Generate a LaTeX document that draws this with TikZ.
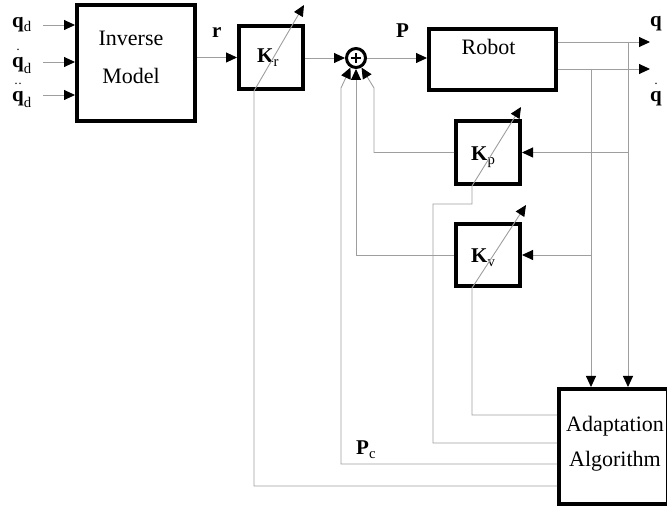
\documentclass[tikz,border=0pt]{standalone}
\usepackage{amsmath}
\usepackage{fontspec}
\setmainfont{Liberation Serif}
\usetikzlibrary{arrows.meta,positioning,calc}

\tikzset{
  blk/.style={draw,line width=4pt,inner sep=0pt},
  sig/.style={draw=black!38,line width=0.9pt},
  tip/.style={-{Triangle[length=11pt,width=10pt,color=black]}},
  txt/.style={font=\fontsize{22}{38}\selectfont,align=center,inner sep=0pt},
  lbl/.style={font=\fontsize{21}{23}\selectfont,inner sep=0pt,anchor=base west},
}

\begin{document}
\begin{tikzpicture}[x=1pt,y=-1pt]
\useasboundingbox (0,0) rectangle (667,510);

% blocks
\node[blk,minimum width=118pt,minimum height=116pt] (inv) at (136,63) {};
\node[blk,minimum width=64pt,minimum height=63pt] (kr) at (271,57.5) {};
\node[draw,circle,line width=3pt,minimum size=19pt,inner sep=0pt] (sum) at (356,58) {};
\node[blk,minimum width=127pt,minimum height=61pt] (robot) at (492.5,59.5) {};
\node[blk,minimum width=64pt,minimum height=63pt] (kp) at (488,152.5) {};
\node[blk,minimum width=64pt,minimum height=62pt] (kv) at (488,255) {};
\node[blk,minimum width=109pt,minimum height=115pt] (adapt) at (613.5,446.5) {};
\draw[line width=2pt] ([xshift=-5pt]sum.center) -- ([xshift=5pt]sum.center);
\draw[line width=2pt] ([yshift=-5pt]sum.center) -- ([yshift=5pt]sum.center);

% block texts
\node[txt] (invtxt) at (131,57) {Inverse\\Model};
\node[txt,anchor=base] (robtxt) at (488.5,55) {Robot};
\node[txt,font=\fontsize{22}{35}\selectfont] (adtxt) at (615,444) {Adaptation\\Algorithm};

% labels
\node[lbl] (qd1) at (12,28) {$\mathbf{q}_{\mathrm{d}}$};
\node[lbl] (qd2) at (12,68) {$\overset{\cdot}{\mathbf{q}}_{\mathrm{d}}$};
\node[lbl] (qd3) at (12,102) {$\overset{\cdot\cdot}{\mathbf{q}}_{\mathrm{d}}$};
\node[lbl] (rl) at (212,38) {$\mathbf{r}$};
\node[lbl] (pl) at (396,38) {$\mathbf{P}$};
\node[lbl] (pcl) at (356,455) {$\mathbf{P}_{\mathrm{c}}$};
\node[lbl] (ql) at (650,27) {$\mathbf{q}$};
\node[lbl] (qdl) at (650,102) {$\overset{\cdot}{\mathbf{q}}$};
\node[lbl] (krl) at (257,63) {$\mathbf{K}_{\mathrm{r}}$};
\node[lbl] (kpl) at (471,161) {$\mathbf{K}_{\mathrm{p}}$};
\node[lbl] (kvl) at (471,263) {$\mathbf{K}_{\mathrm{v}}$};

% free ends and branch points
\coordinate (in1) at (43,25);
\coordinate (in2) at (43,62);
\coordinate (in3) at (43,95);
\coordinate (qo) at (650,42);
\coordinate (qdo) at (650,69);
\coordinate (qb) at (628,42);
\coordinate (qdb) at (591,69);
\coordinate (krg) at ([xshift=-17pt]kr.south);
\coordinate (kpg) at ([xshift=-16pt]kp.south);
\coordinate (kvg) at ([xshift=-16pt]kv.south);
\coordinate (krt) at (304,5);
\coordinate (kpt) at (521,107);
\coordinate (kvt) at (526,205);

% forward path
\draw[sig,tip] (in1) -- (in1 -| inv.west);
\draw[sig,tip] (in2) -- (in2 -| inv.west);
\draw[sig,tip] (in3) -- (in3 -| inv.west);
\draw[sig,tip] (inv.east |- kr.west) -- (kr.west);
\draw[sig,tip] (kr.east |- sum.west) -- (sum.west);
\draw[sig,tip] (sum.east) -- (sum.east -| robot.west);
\draw[sig,tip] (robot.east |- qo) -- (qo);
\draw[sig,tip] (robot.east |- qdo) -- (qdo);

% measured states
\draw[sig,tip] (qb) -- (qb |- adapt.north);
\draw[sig,tip] (qdb) -- (qdb |- adapt.north);
\draw[sig,tip] (qb |- kp.east) -- (kp.east);
\draw[sig,tip] (qdb |- kv.east) -- (kv.east);

% feedback into the sum
\draw[sig,tip] (kv.west) -| (sum.south);
\draw[sig,tip] (kp.west) -| (374,88) -- (sum.-60);
\draw[sig,tip] (adapt.west |- 0,464) -| (341,88) -- (sum.240);

% gain adjustment
\draw[sig,tip] (adapt.west |- 0,486) -| (krg) -- (krt);
\draw[sig,tip] (adapt.west |- 0,443) -| (433,204) -| (kpg) -- (kpt);
\draw[sig,tip] (adapt.west |- 0,415) -| (kvg) -- (kvt);
\end{tikzpicture}
\end{document}
